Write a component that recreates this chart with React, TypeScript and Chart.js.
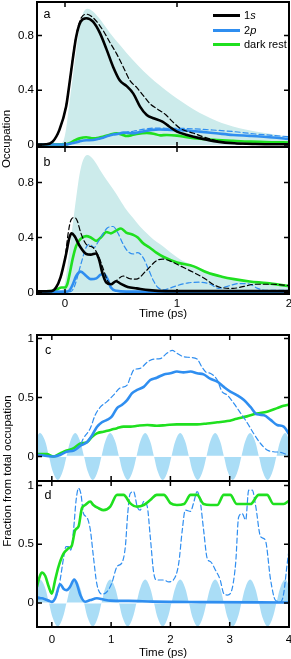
import { useEffect, useRef } from 'react';
import { Chart, registerables } from 'chart.js';

Chart.register(...registerables);

const FONT = "'Liberation Sans', Arial, Helvetica, sans-serif";
const BLACK = '#000000';
const BLUE = '#2f8ef0';
const GREEN = '#1fe01f';
const ENV = 'rgb(204,235,235)';
const PULSE = 'rgb(170,221,246)';

type P = [number, number];

// ---------- tick values ----------
const AB_X_TICKS = [0, 1, 2];
const AB_Y_TICKS = [0, 0.4, 0.8];
const CD_X_TICKS = [0, 1, 2, 3, 4];
const CD_Y_TICKS = [0, 0.5, 1];

// ---------- panel a ----------
const A_ENVELOPE: P[] = [[-0.25,0],[-0.1,0],[-0.04,0.01],[-0.01,0.04],[0.01,0.12],[0.04,0.31],[0.07,0.5],[0.1,0.69],[0.13,0.86],[0.16,0.96],[0.2,0.995],[0.25,0.975],[0.3,0.93],[0.4,0.82],[0.5,0.72],[0.6,0.625],[0.7,0.54],[0.8,0.465],[0.9,0.4],[1.0,0.34],[1.1,0.285],[1.2,0.235],[1.3,0.195],[1.4,0.16],[1.5,0.135],[1.6,0.115],[1.8,0.085],[2.0,0.06]];
const A_1S: P[] = [[-0.25,0.003],[-0.17,0.005],[-0.11,0.024],[-0.05,0.11],[0.01,0.28],[0.04,0.45],[0.07,0.63],[0.1,0.79],[0.14,0.9],[0.19,0.925],[0.25,0.9],[0.31,0.82],[0.37,0.7],[0.43,0.57],[0.49,0.47],[0.55,0.43],[0.61,0.375],[0.67,0.28],[0.73,0.218],[0.79,0.195],[0.87,0.17],[0.93,0.135],[1.0,0.097],[1.09,0.073],[1.21,0.048],[1.36,0.024],[1.51,0.012],[1.7,0.007],[2.0,0.005]];
const A_1S_DASH: P[] = [[-0.25,0.003],[-0.17,0.005],[-0.11,0.024],[-0.05,0.11],[0.01,0.29],[0.04,0.46],[0.07,0.64],[0.1,0.8],[0.14,0.92],[0.19,0.955],[0.25,0.93],[0.34,0.836],[0.4,0.75],[0.46,0.667],[0.52,0.57],[0.58,0.47],[0.64,0.42],[0.7,0.36],[0.76,0.3],[0.82,0.265],[0.9,0.22],[0.96,0.17],[1.03,0.12],[1.15,0.085],[1.25,0.055],[1.33,0.036],[1.45,0.015],[1.6,0.008],[2.0,0.005]];
const A_2P: P[] = [[-0.25,0.003],[0.0,0.003],[0.06,0.012],[0.13,0.026],[0.19,0.034],[0.25,0.036],[0.3,0.045],[0.34,0.052],[0.38,0.065],[0.43,0.076],[0.48,0.082],[0.52,0.09],[0.56,0.088],[0.61,0.085],[0.67,0.095],[0.73,0.104],[0.78,0.11],[0.84,0.113],[0.9,0.112],[1.03,0.108],[1.2,0.097],[1.35,0.085],[1.5,0.073],[1.65,0.066],[1.8,0.058],[2.0,0.044]];
const A_2P_DASH: P[] = [[-0.25,0.003],[0.0,0.003],[0.06,0.012],[0.13,0.026],[0.19,0.034],[0.25,0.036],[0.3,0.045],[0.34,0.052],[0.38,0.065],[0.43,0.076],[0.48,0.082],[0.52,0.09],[0.56,0.095],[0.61,0.1],[0.67,0.11],[0.73,0.118],[0.79,0.123],[0.9,0.122],[1.09,0.12],[1.3,0.11],[1.5,0.098],[1.7,0.08],[1.85,0.07],[2.0,0.06]];
const A_DARK: P[] = [[-0.25,0.003],[0.0,0.004],[0.04,0.012],[0.09,0.035],[0.13,0.048],[0.19,0.056],[0.25,0.048],[0.3,0.052],[0.34,0.06],[0.4,0.075],[0.46,0.085],[0.51,0.075],[0.55,0.065],[0.6,0.072],[0.64,0.08],[0.73,0.088],[0.8,0.08],[0.85,0.07],[0.91,0.073],[1.0,0.068],[1.09,0.056],[1.2,0.045],[1.36,0.036],[1.5,0.03],[1.66,0.024],[1.85,0.02],[2.0,0.018]];

// ---------- panel b ----------
const B_ENVELOPE: P[] = [[-0.25,0],[-0.1,0],[-0.04,0.01],[-0.01,0.04],[0.01,0.12],[0.04,0.31],[0.07,0.5],[0.1,0.69],[0.13,0.86],[0.16,0.96],[0.2,1.0],[0.25,0.97],[0.31,0.895],[0.37,0.82],[0.43,0.75],[0.49,0.675],[0.55,0.6],[0.61,0.54],[0.67,0.48],[0.73,0.43],[0.79,0.385],[0.85,0.35],[0.91,0.313],[0.97,0.275],[1.03,0.24],[1.12,0.205],[1.21,0.175],[1.3,0.148],[1.4,0.122],[1.5,0.102],[1.66,0.08],[1.8,0.065],[2.0,0.05]];
const B_1S: P[] = [[-0.25,0.008],[-0.12,0.01],[-0.08,0.036],[-0.04,0.11],[0.01,0.28],[0.04,0.4],[0.06,0.43],[0.085,0.41],[0.13,0.34],[0.19,0.28],[0.23,0.275],[0.275,0.284],[0.3,0.25],[0.337,0.133],[0.367,0.073],[0.41,0.06],[0.456,0.082],[0.5,0.062],[0.56,0.04],[0.64,0.03],[0.75,0.017],[0.9,0.01],[2.0,0.01]];
const B_1S_DASH: P[] = [[-0.25,0.008],[-0.12,0.01],[-0.08,0.036],[-0.04,0.11],[0.0,0.25],[0.03,0.44],[0.055,0.53],[0.085,0.545],[0.11,0.52],[0.14,0.436],[0.19,0.35],[0.25,0.327],[0.29,0.28],[0.337,0.182],[0.38,0.085],[0.41,0.06],[0.45,0.08],[0.52,0.12],[0.58,0.1],[0.636,0.097],[0.725,0.158],[0.815,0.23],[0.87,0.243],[0.95,0.225],[1.05,0.185],[1.15,0.145],[1.25,0.1],[1.32,0.06],[1.4,0.035],[1.5,0.03],[1.6,0.045],[1.7,0.06],[1.85,0.06],[2.0,0.05]];
const B_2P: P[] = [[-0.25,0.005],[0.02,0.006],[0.045,0.02],[0.07,0.06],[0.1,0.12],[0.14,0.152],[0.19,0.12],[0.23,0.097],[0.28,0.103],[0.32,0.13],[0.35,0.132],[0.38,0.097],[0.41,0.036],[0.46,0.012],[0.55,0.006],[2.0,0.005]];
const B_2P_DASH: P[] = [[-0.25,0.005],[0.05,0.006],[0.08,0.036],[0.11,0.11],[0.14,0.2],[0.19,0.33],[0.22,0.35],[0.26,0.327],[0.29,0.36],[0.337,0.425],[0.38,0.47],[0.43,0.48],[0.47,0.436],[0.52,0.35],[0.56,0.3],[0.61,0.28],[0.65,0.29],[0.7,0.25],[0.74,0.18],[0.79,0.085],[0.83,0.036],[0.88,0.02],[0.95,0.035],[1.0,0.05],[1.1,0.07],[1.2,0.075],[1.3,0.06],[1.37,0.03],[1.45,0.045],[1.55,0.065],[1.65,0.06],[1.72,0.03],[1.8,0.015],[2.0,0.015]];
const B_DARK: P[] = [[-0.25,0.008],[-0.12,0.01],[-0.08,0.02],[-0.03,0.036],[0.0,0.036],[0.02,0.06],[0.04,0.13],[0.07,0.25],[0.1,0.34],[0.14,0.39],[0.19,0.41],[0.23,0.4],[0.28,0.375],[0.32,0.4],[0.37,0.44],[0.41,0.43],[0.456,0.45],[0.5,0.465],[0.546,0.436],[0.606,0.42],[0.65,0.4],[0.695,0.36],[0.755,0.327],[0.815,0.29],[0.877,0.26],[1.0,0.218],[1.15,0.19],[1.27,0.145],[1.4,0.115],[1.51,0.097],[1.65,0.08],[1.8,0.068],[2.0,0.046]];

// ---------- field (c, d) ----------
const FIELD: P[] = [[-0.25,0.17],[-0.195,0.2],[-0.121,0.141],[-0.048,0],[0.026,-0.141],[0.1,-0.2],[0.174,-0.141],[0.248,0],[0.321,0.141],[0.395,0.2],[0.469,0.141],[0.543,0],[0.616,-0.141],[0.69,-0.2],[0.764,-0.141],[0.838,0],[0.911,0.141],[0.985,0.2],[1.059,0.141],[1.133,0],[1.206,-0.141],[1.28,-0.2],[1.354,-0.141],[1.428,0],[1.501,0.141],[1.575,0.2],[1.649,0.141],[1.723,0],[1.796,-0.141],[1.87,-0.2],[1.944,-0.141],[2.018,0],[2.091,0.141],[2.165,0.2],[2.239,0.141],[2.313,0],[2.386,-0.141],[2.46,-0.2],[2.534,-0.141],[2.608,0],[2.681,0.141],[2.755,0.2],[2.829,0.141],[2.903,0],[2.976,-0.141],[3.05,-0.2],[3.124,-0.141],[3.198,0],[3.271,0.141],[3.345,0.2],[3.419,0.141],[3.493,0],[3.566,-0.141],[3.64,-0.2],[3.714,-0.141],[3.788,0],[3.861,0.141],[3.935,0.2],[4.0,0.15]];
const ZERO_LINE: P[] = [[-0.25,0],[4,0]];

// ---------- panel c ----------
const C_2P: P[] = [[-0.25,0.013],[-0.14,0.008],[0.03,0.0],[0.14,0.013],[0.25,0.04],[0.37,0.05],[0.48,0.09],[0.59,0.12],[0.68,0.18],[0.76,0.25],[0.845,0.29],[0.93,0.31],[1.01,0.337],[1.1,0.41],[1.18,0.436],[1.27,0.478],[1.35,0.535],[1.44,0.564],[1.55,0.59],[1.66,0.648],[1.77,0.668],[1.89,0.696],[2.0,0.705],[2.11,0.72],[2.22,0.713],[2.34,0.72],[2.45,0.705],[2.56,0.696],[2.67,0.66],[2.79,0.634],[2.9,0.59],[3.01,0.55],[3.12,0.52],[3.24,0.478],[3.35,0.42],[3.46,0.357],[3.58,0.35],[3.69,0.31],[3.8,0.267],[3.91,0.253],[4.0,0.19]];
const C_2P_DASH: P[] = [[-0.25,0.013],[-0.14,0.008],[0.03,0.0],[0.14,0.013],[0.25,0.04],[0.37,0.05],[0.48,0.1],[0.535,0.155],[0.65,0.24],[0.73,0.35],[0.82,0.42],[0.93,0.465],[1.04,0.52],[1.15,0.58],[1.27,0.605],[1.33,0.68],[1.38,0.733],[1.49,0.747],[1.61,0.8],[1.72,0.826],[1.83,0.83],[1.94,0.875],[2.03,0.9],[2.11,0.875],[2.22,0.846],[2.34,0.84],[2.45,0.826],[2.53,0.76],[2.6,0.715],[2.67,0.705],[2.79,0.648],[2.87,0.55],[2.96,0.52],[3.07,0.45],[3.18,0.37],[3.29,0.29],[3.41,0.19],[3.52,0.11],[3.63,0.055],[3.74,0.04],[3.86,0.035],[4.0,0.006]];
const C_DARK: P[] = [[-0.25,0.02],[-0.085,0.02],[0.03,0.0],[0.14,0.025],[0.25,0.05],[0.37,0.07],[0.48,0.11],[0.59,0.12],[0.68,0.168],[0.76,0.196],[0.87,0.21],[0.99,0.225],[1.1,0.24],[1.21,0.253],[1.33,0.253],[1.44,0.26],[1.61,0.267],[1.77,0.26],[1.94,0.267],[2.11,0.272],[2.28,0.272],[2.45,0.272],[2.62,0.28],[2.79,0.29],[2.96,0.3],[3.12,0.32],[3.29,0.34],[3.46,0.364],[3.63,0.38],[3.8,0.41],[3.91,0.43],[4.0,0.44]];

// ---------- panel d ----------
const D_2P: P[] = [[-0.25,0.04],[-0.17,0.04],[-0.085,0.025],[0.0,0.01],[0.056,0.04],[0.14,0.16],[0.2,0.12],[0.25,0.11],[0.31,0.14],[0.377,0.2],[0.42,0.167],[0.48,0.068],[0.56,0.011],[0.65,0.025],[0.76,0.04],[0.87,0.03],[0.985,0.02],[1.3,0.018],[1.7,0.012],[2.5,0.008],[4.0,0.005]];
const D_2P_DASH: P[] = [[-0.25,0.055],[-0.14,0.04],[-0.028,0.02],[0.0,0.01],[0.084,0.07],[0.14,0.196],[0.197,0.38],[0.24,0.48],[0.28,0.48],[0.32,0.45],[0.366,0.62],[0.41,0.876],[0.45,0.976],[0.49,0.93],[0.535,0.76],[0.59,0.73],[0.65,0.62],[0.7,0.4],[0.76,0.16],[0.845,0.076],[0.93,0.096],[1.01,0.167],[1.1,0.31],[1.18,0.34],[1.24,0.48],[1.28,0.76],[1.32,0.93],[1.38,0.947],[1.44,0.82],[1.49,0.79],[1.55,0.863],[1.61,0.82],[1.66,0.565],[1.72,0.25],[1.77,0.196],[1.89,0.196],[1.97,0.18],[2.05,0.196],[2.14,0.337],[2.2,0.62],[2.25,0.79],[2.34,0.78],[2.39,0.85],[2.45,0.947],[2.5,0.876],[2.56,0.62],[2.62,0.38],[2.68,0.35],[2.76,0.28],[2.84,0.196],[2.9,0.08],[2.96,0.068],[3.01,0.08],[3.1,0.337],[3.15,0.73],[3.21,0.76],[3.27,0.706],[3.32,0.96],[3.38,0.96],[3.44,0.82],[3.52,0.565],[3.6,0.536],[3.69,0.196],[3.77,0.025],[3.86,0.01],[3.91,0.08],[3.97,0.337],[4.0,0.45]];
const D_DARK: P[] = [[-0.25,0.14],[-0.22,0.2],[-0.17,0.26],[-0.11,0.23],[-0.056,0.145],[0.0,0.08],[0.056,0.196],[0.113,0.31],[0.197,0.42],[0.28,0.465],[0.338,0.49],[0.394,0.62],[0.45,0.65],[0.507,0.806],[0.563,0.834],[0.648,0.863],[0.7,0.834],[0.79,0.806],[0.873,0.79],[0.985,0.82],[1.1,0.92],[1.21,0.92],[1.32,0.85],[1.436,0.82],[1.55,0.834],[1.66,0.876],[1.77,0.92],[1.89,0.92],[2.0,0.85],[2.11,0.834],[2.23,0.842],[2.34,0.92],[2.45,0.92],[2.56,0.842],[2.68,0.834],[2.79,0.834],[2.9,0.92],[3.01,0.92],[3.12,0.842],[3.35,0.842],[3.49,0.92],[3.63,0.92],[3.74,0.842],[3.91,0.842],[4.0,0.87]];

// ---------- helpers ----------
function line(data: P[], color: string, width: number, dash: number[] = []) {
  return {
    data: data.map(([x, y]) => ({ x, y })),
    borderColor: color,
    borderWidth: width,
    borderDash: dash,
    pointRadius: 0,
    fill: false,
    cubicInterpolationMode: 'monotone',
    borderCapStyle: 'round',
    borderJoinStyle: 'round',
  };
}
function area(data: P[], color: string, smooth: 'monotone' | 'tension') {
  return {
    data: data.map(([x, y]) => ({ x, y })),
    borderColor: 'rgba(0,0,0,0)',
    borderWidth: 0,
    backgroundColor: color,
    fill: 'origin',
    pointRadius: 0,
    cubicInterpolationMode: smooth === 'monotone' ? 'monotone' : 'default',
    tension: smooth === 'monotone' ? 0 : 0.4,
  };
}

const framePlugin = {
  id: 'frame',
  afterDatasetsDraw(chart: any) {
    const { ctx, chartArea: a, scales } = chart;
    ctx.save();
    ctx.strokeStyle = '#000';
    ctx.lineWidth = 1.5;
    const L = 5;
    ctx.beginPath();
    for (const t of scales.x.ticks) {
      const px = scales.x.getPixelForValue(t.value);
      ctx.moveTo(px, a.bottom); ctx.lineTo(px, a.bottom - L);
      ctx.moveTo(px, a.top); ctx.lineTo(px, a.top + L);
    }
    for (const t of scales.y.ticks) {
      const py = scales.y.getPixelForValue(t.value);
      ctx.moveTo(a.left, py); ctx.lineTo(a.left + L, py);
      ctx.moveTo(a.right, py); ctx.lineTo(a.right - L, py);
    }
    ctx.stroke();
    ctx.lineWidth = 2;
    ctx.strokeRect(a.left, a.top, a.right - a.left, a.bottom - a.top);
    ctx.restore();
  },
};

interface Spec {
  top: number; height: number; padTop: number; xH: number;
  xMin: number; xMax: number; yMin: number; yMax: number;
  xTicks: number[]; yTicks: number[]; showX: boolean; xPad: number;
  datasets: any[];
}

function Panel({ spec }: { spec: Spec }) {
  const ref = useRef<HTMLCanvasElement>(null);
  useEffect(() => {
    const tickFont = { family: FONT, size: 11.5 };
    const chart = new Chart(ref.current!, {
      type: 'line',
      data: { datasets: spec.datasets },
      options: {
        responsive: false,
        animation: false,
        devicePixelRatio: 1,
        layout: { padding: { top: spec.padTop, right: 2, left: 0, bottom: 0 } },
        plugins: { legend: { display: false }, tooltip: { enabled: false }, title: { display: false } },
        scales: {
          x: {
            type: 'linear', min: spec.xMin, max: spec.xMax,
            afterBuildTicks: (s: any) => { s.ticks = spec.xTicks.map((v) => ({ value: v })); },
            afterFit: (s: any) => { s.height = spec.xH; s.paddingLeft = 0; s.paddingRight = 0; },
            grid: { display: false, drawTicks: false },
            border: { display: false },
            ticks: { display: spec.showX, padding: spec.xPad, color: '#000', font: tickFont, maxRotation: 0, autoSkip: false, callback: (v: any) => String(v) },
            title: { display: spec.showX, text: 'Time (ps)', color: '#000', padding: { top: 0, bottom: 0 }, font: { family: FONT, size: 11.5, lineHeight: 1 } },
          },
          y: {
            type: 'linear', min: spec.yMin, max: spec.yMax,
            afterBuildTicks: (s: any) => { s.ticks = spec.yTicks.map((v) => ({ value: v })); },
            afterFit: (s: any) => { s.width = 37; s.paddingTop = 0; s.paddingBottom = 0; },
            grid: { display: false, drawTicks: false },
            border: { display: false },
            ticks: { padding: 3, color: '#000', font: tickFont, autoSkip: false, callback: (v: any) => String(v) },
          },
        },
      } as any,
      plugins: [framePlugin],
    });
    return () => chart.destroy();
  }, []);
  return (
    <canvas
      ref={ref}
      width={291}
      height={spec.height}
      style={{ position: 'absolute', left: 0, top: spec.top, width: 291, height: spec.height }}
    />
  );
}

const DASH = [5, 3];

const PANELS: Spec[] = [
  {
    top: 0, height: 150, padTop: 2, xH: 3,
    xMin: -0.25, xMax: 2, yMin: -0.015, yMax: 1.044,
    xTicks: AB_X_TICKS, yTicks: AB_Y_TICKS, showX: false, xPad: 0,
    datasets: [
      line(A_1S, BLACK, 2.6),
      line(A_1S_DASH, BLACK, 1.2, DASH),
      line(A_2P, BLUE, 2.6),
      line(A_2P_DASH, BLUE, 1.2, DASH),
      line(A_DARK, GREEN, 2.6),
      area(A_ENVELOPE, ENV, 'monotone'),
    ],
  },
  {
    top: 145, height: 175, padTop: 2, xH: 26,
    xMin: -0.25, xMax: 2, yMin: -0.011, yMax: 1.058,
    xTicks: AB_X_TICKS, yTicks: AB_Y_TICKS, showX: true, xPad: 3,
    datasets: [
      line(B_1S, BLACK, 2.6),
      line(B_1S_DASH, BLACK, 1.2, DASH),
      line(B_2P, BLUE, 2.6),
      line(B_2P_DASH, BLUE, 1.2, DASH),
      line(B_DARK, GREEN, 2.6),
      area(B_ENVELOPE, ENV, 'monotone'),
    ],
  },
  {
    top: 330, height: 153, padTop: 5, xH: 2,
    xMin: -0.25, xMax: 4, yMin: -0.208, yMax: 1.03,
    xTicks: CD_X_TICKS, yTicks: CD_Y_TICKS, showX: false, xPad: 0,
    datasets: [
      line(C_2P, BLUE, 2.6),
      line(C_2P_DASH, BLUE, 1.2, DASH),
      line(C_DARK, GREEN, 2.6),
      line(ZERO_LINE, '#ffffff', 1.2),
      area(FIELD, PULSE, 'tension'),
    ],
  },
  {
    top: 479, height: 180, padTop: 2, xH: 32,
    xMin: -0.25, xMax: 4, yMin: -0.204, yMax: 1.038,
    xTicks: CD_X_TICKS, yTicks: CD_Y_TICKS, showX: true, xPad: 6,
    datasets: [
      line(D_DARK, GREEN, 2.6),
      line(D_2P, BLUE, 2.6),
      line(D_2P_DASH, BLUE, 1.2, DASH),
      line(ZERO_LINE, '#ffffff', 1.2),
      area(FIELD, PULSE, 'tension'),
    ],
  },
];

const LEGEND = [
  { label: ['1', 's'], color: BLACK, y: 15 },
  { label: ['2', 'p'], color: BLUE, y: 30 },
  { label: ['dark rest', ''], color: GREEN, y: 44.5 },
];

const PANEL_LETTERS = [
  { text: 'a', x: 47, y: 14 },
  { text: 'b', x: 47, y: 162 },
  { text: 'c', x: 48, y: 350 },
  { text: 'd', x: 48, y: 495 },
];

const textBase: React.CSSProperties = {
  position: 'absolute', fontFamily: FONT, color: '#000', whiteSpace: 'nowrap', lineHeight: 1,
};

export default function App() {
  return (
    <div style={{ position: 'fixed', left: 0, top: 0, width: 291, height: 659, background: '#fff', overflow: 'hidden' }}>
      {PANELS.map((p, i) => <Panel key={i} spec={p} />)}
      {PANEL_LETTERS.map((l) => (
        <div key={l.text} style={{ ...textBase, fontSize: 12.5, left: l.x, top: l.y, transform: 'translate(-50%,-50%)' }}>{l.text}</div>
      ))}
      {LEGEND.map((l, i) => (
        <div key={i} style={{ position: 'absolute', left: 213, top: l.y - 7, height: 14, display: 'flex', alignItems: 'center' }}>
          <div style={{ width: 27, height: 3, background: l.color }} />
          <div style={{ ...textBase, position: 'static', fontSize: 11, marginLeft: 4 }}>
            {l.label[0]}<i>{l.label[1]}</i>
          </div>
        </div>
      ))}
      <div style={{ ...textBase, fontSize: 11.5, left: 7, top: 139, transform: 'translate(-50%,-50%) rotate(-90deg)' }}>Occupation</div>
      <div style={{ ...textBase, fontSize: 11.5, left: 7.5, top: 471, transform: 'translate(-50%,-50%) rotate(-90deg)' }}>Fraction from total occupation</div>
    </div>
  );
}
